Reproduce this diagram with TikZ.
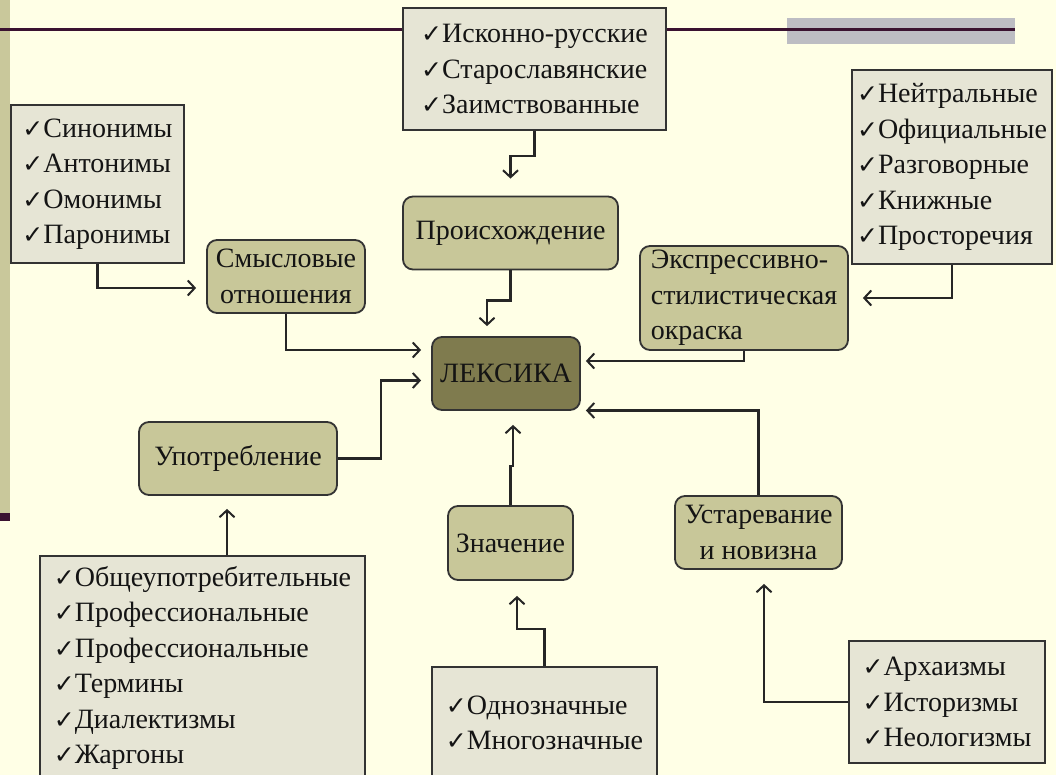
\documentclass[tikz,border=0pt]{standalone}
\usepackage{fontspec}
\setmainfont{Liberation Serif}
\newfontfamily\chkfont{DejaVu Sans}
\usetikzlibrary{arrows.meta}

\definecolor{slidebg}{HTML}{FFFFE6}
\definecolor{sidebar}{HTML}{C9C89B}
\definecolor{darkline}{HTML}{3A1230}
\definecolor{graybar}{HTML}{BDBDC3}
\definecolor{topicfill}{HTML}{C8C799}
\definecolor{lexfill}{HTML}{7F7B4E}
\definecolor{listfill}{HTML}{E6E5D5}
\definecolor{boxline}{HTML}{333333}

\newcommand{\chkm}{{\chkfont\fontsize{25}{25}\selectfont ✓}}

\begin{document}
\begin{tikzpicture}[x=1pt, y=-1pt, font=\fontsize{28}{35.5}\selectfont]
\useasboundingbox (0,0) rectangle (1056,775);
\fill[slidebg] (0,0) rectangle (1056,775);

% slide frame
\fill[sidebar] (0,0) rectangle (10,513);
\fill[darkline] (0,513) rectangle (10,521);
\fill[graybar] (787,18) rectangle (1015,44);
\draw[darkline, line width=3pt] (0,30) -- (1015,30);

% lists
\begin{scope}[every node/.style={rectangle, draw=boxline, line width=1.8pt, fill=listfill, align=left, text=black!92, inner xsep=6pt}]
    \node (origins) at (534.5, 69) [minimum width=263pt, minimum height=122pt]
        {\chkm Исконно-русские\\ \chkm Старославянские\\ \chkm Заимствованные};
    \node (semlist) at (97.5, 184) [minimum width=173pt, minimum height=158pt]
        {\chkm Синонимы\\ \chkm Антонимы\\ \chkm Омонимы\\ \chkm Паронимы};
    \node (stylelist) at (952, 167) [minimum width=200pt, minimum height=194pt, inner xsep=1pt]
        {\chkm Нейтральные\\ \chkm Официальные\\ \chkm Разговорные\\ \chkm Книжные\\ \chkm Просторечия};
    \node (usagelist) at (202.5, 668) [minimum width=325pt, minimum height=224pt]
        {\chkm Общеупотребительные\\ \chkm Профессиональные\\ \chkm Профессиональные\\ \chkm Термины\\ \chkm Диалектизмы\\ \chkm Жаргоны};
    \node (meanlist) at (544.5, 723) [minimum width=225pt, minimum height=112pt]
        {\chkm Однозначные\\ \chkm Многозначные};
    \node (archlist) at (947, 702) [minimum width=196pt, minimum height=122pt]
        {\chkm Архаизмы\\ \chkm Историзмы\\ \chkm Неологизмы};
\end{scope}

% topics
\begin{scope}[every node/.style={rectangle, rounded corners=10pt, draw=boxline, line width=1.8pt, fill=topicfill, align=center, text=black!92}]
    \node (origin) at (510.5, 233) [minimum width=215pt, minimum height=73pt] {Происхождение};
    \node (semrel) at (286, 276.5) [minimum width=158pt, minimum height=73pt] {Смысловые\\отношения};
    \node (expr) at (744, 298) [minimum width=208pt, minimum height=104pt, align=left] {Экспрессивно-\\стилистическая\\окраска};
    \node (lex) at (506, 373.5) [minimum width=148pt, minimum height=73pt, fill=lexfill] {ЛЕКСИКА};
    \node (usage) at (238, 458.5) [minimum width=198pt, minimum height=73pt] {Употребление};
    \node (meaning) at (510.5, 543) [minimum width=125pt, minimum height=74pt] {Значение};
    \node (obs) at (758.5, 532.5) [minimum width=167pt, minimum height=73pt] {Устаревание\\и новизна};
\end{scope}

\begin{scope}[>={Straight Barb[length=7pt, width=15pt, line width=2pt]},
              line width=2.2pt, draw=black!85]
    \draw [->, shorten >=17pt] (origins.south) -- ++(0,25) -| (origin.north);
    \draw [->, shorten >=10pt] (origin.south) -- ++(0,30) -| ([xshift=-19pt]lex.north);
    \draw [->, shorten >=10pt] (semlist.south) |- ([yshift=-11.5pt]semrel.west);
    \draw [->, shorten >=10pt] (semrel.south) |- ([yshift=23.5pt]lex.west);
    \draw [->, shorten >=10pt] (usage.east) -- ++(43,0) |- ([yshift=-7pt]lex.west);
    \draw [->, shorten >=13pt] ([xshift=-11pt]usage.south |- usagelist.north) -- ([xshift=-11pt]usage.south);
    \draw [->, shorten >=14pt] (stylelist.south) |- (expr.east);
    \draw [->, shorten >=5pt] (expr.south) |- ([yshift=12.5pt]lex.east);
    \draw [->, shorten >=5pt] (obs.north) |- ([yshift=-37pt]lex.east);
    \draw [->, shorten >=14pt] (archlist.west) -| ([xshift=5.5pt]obs.south);
    \draw [->, shorten >=15pt] (meanlist.north) -- ++(0,-37) -| ([xshift=6.5pt]meaning.south);
    \draw [->, shorten >=14pt] (meaning.north) -- ++(0,-39) -| ([xshift=7pt]lex.south);
\end{scope}
\end{tikzpicture}
\end{document}
